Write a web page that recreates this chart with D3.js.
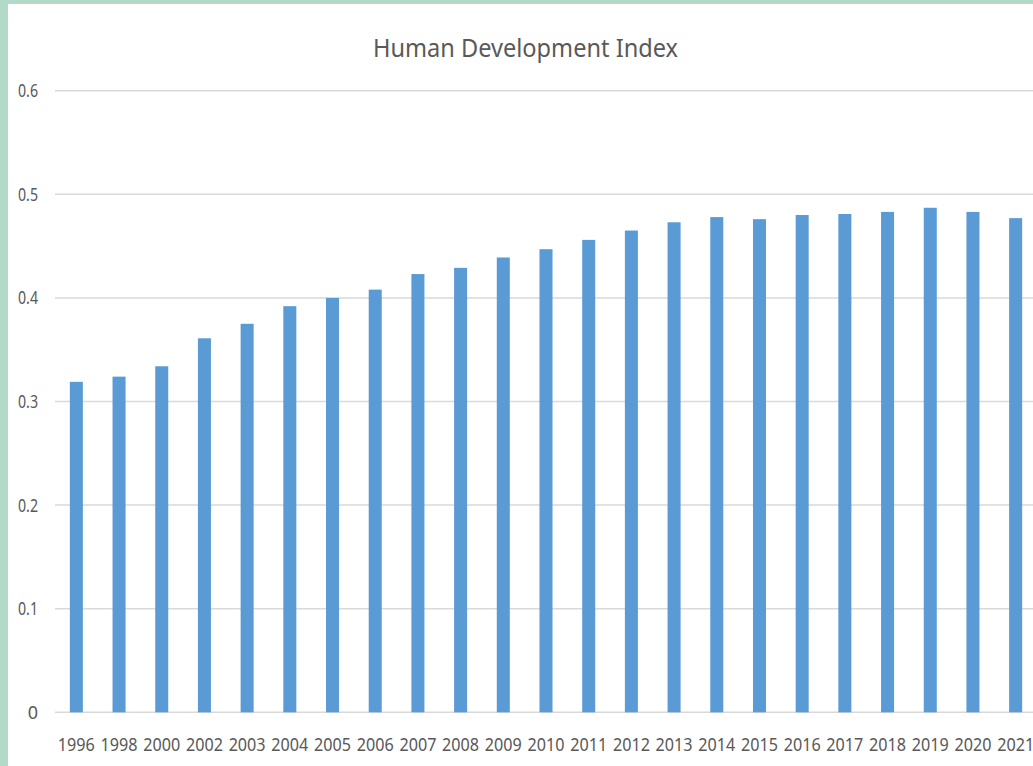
<!DOCTYPE html>
<html>
<head>
<meta charset="utf-8">
<script src="https://cdn.jsdelivr.net/npm/d3@7"></script>
<style>
  html, body { margin: 0; padding: 0; background: #ffffff; }
  svg { display: block; }
</style>
</head>
<body>
<svg id="chart" width="1033" height="766"></svg>
<script>
const years = ["1996","1998","2000","2002","2003","2004","2005","2006","2007","2008","2009","2010","2011","2012","2013","2014","2015","2016","2017","2018","2019","2020","2021"];
const hdiValues = [0.319,0.324,0.334,0.361,0.375,0.392,0.400,0.408,0.423,0.429,0.439,0.447,0.456,0.465,0.473,0.478,0.476,0.480,0.481,0.483,0.487,0.483,0.477];
const yTicks = [0, 0.1, 0.2, 0.3, 0.4, 0.5, 0.6];
const chartTitle = "Human Development Index";

const W = 1033, H = 766;
const svg = d3.select("#chart");
const font = "'Noto Sans', 'Open Sans', sans-serif";
const textColor = "#595959";

// frame
svg.append("rect").attr("x",0).attr("y",0).attr("width",W).attr("height",H).attr("fill","#b2dac8");
svg.append("rect").attr("x",8).attr("y",4).attr("width",W-8).attr("height",H-4).attr("fill","#ffffff");

const x = d3.scaleBand().domain(years).range([55, 1037]).paddingInner(0.695).paddingOuter(0.3475);
const y = d3.scaleLinear().domain([0, 0.6]).range([712.3, 90.7]);

// gridlines
svg.append("g").selectAll("line").data(yTicks).join("line")
  .attr("x1", 55).attr("x2", W)
  .attr("y1", d => y(d)).attr("y2", d => y(d))
  .attr("stroke", "#d9d9d9").attr("stroke-width", 1.5);

// y labels
svg.append("g").selectAll("text").data(yTicks).join("text")
  .attr("x", 38).attr("y", d => y(d)).attr("dy", "0.36em")
  .attr("text-anchor", "end")
  .attr("font-family", font).attr("font-size", 18).attr("fill", textColor)
  .each(function(d) {
    const t = d3.select(this).text(d === 0 ? "0" : d3.format(".1f")(d));
    if (d !== 0) t.attr("textLength", 20).attr("lengthAdjust", "spacingAndGlyphs");
  });

// bars
svg.append("g").selectAll("rect").data(years).join("rect")
  .attr("x", d => x(d)).attr("width", x.bandwidth())
  .attr("y", (d,i) => y(hdiValues[i]))
  .attr("height", (d,i) => y(0) - y(hdiValues[i]))
  .attr("fill", "#5b9bd5");

// x labels
svg.append("g").selectAll("text").data(years).join("text")
  .attr("x", d => x(d) + x.bandwidth()/2).attr("y", 751)
  .attr("text-anchor", "middle")
  .attr("font-family", font).attr("font-size", 18).attr("fill", textColor)
  .attr("textLength", 37).attr("lengthAdjust", "spacingAndGlyphs")
  .text(d => d);

// title
svg.append("text")
  .attr("x", 525.5).attr("y", 57)
  .attr("text-anchor", "middle")
  .attr("font-family", font).attr("font-size", 25).attr("fill", textColor)
  .attr("textLength", 305).attr("lengthAdjust", "spacingAndGlyphs")
  .text(chartTitle);
</script>
</body>
</html>
